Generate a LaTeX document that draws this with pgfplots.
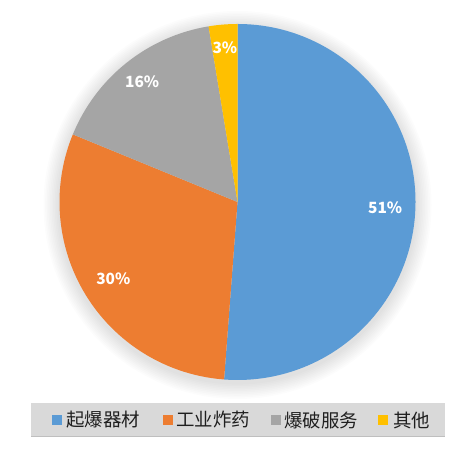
\documentclass[border=0pt]{standalone}
\usepackage{pgfplots}
\usepackage{pgfplotstable}
\pgfplotsset{compat=1.18}
\usepackage{fontspec}
\setmainfont{Noto Sans CJK SC}

\definecolor{sA}{HTML}{5B9BD5}
\definecolor{sB}{HTML}{ED7D31}
\definecolor{sC}{HTML}{A5A5A5}
\definecolor{sD}{HTML}{FFC000}
\definecolor{band}{HTML}{D9D9D9}

% share in percent, label radius (fraction of pie radius), colour
\pgfplotstableread{
name     value lr   col
起爆器材 51.2  0.83 sA
工业炸药 30.0  0.82 sB
爆破服务 16.2  0.86 sC
其他     2.6   0.87 sD
}\piedata

\begin{document}
\begin{tikzpicture}[x=1bp,y=1bp]
\useasboundingbox (0,0) rectangle (475,451);

% start at 12 o'clock, go clockwise
\def\cur{90}
\pgfplotsforeachungrouped \i in {0,1,2,3}{%
  \pgfplotstablegetelem{\i}{value}\of\piedata \let\v\pgfplotsretval
  \pgfmathsetmacro{\nxt}{\cur-3.6*\v}%
  \expandafter\xdef\csname a\i\endcsname{\cur}%
  \expandafter\xdef\csname b\i\endcsname{\nxt}%
  \pgfmathtruncatemacro{\pct}{round(\v)}%
  \expandafter\xdef\csname p\i\endcsname{\pct}%
  \pgfplotstablegetelem{\i}{lr}\of\piedata
  \expandafter\xdef\csname r\i\endcsname{\pgfplotsretval}%
  \pgfplotstablegetelem{\i}{col}\of\piedata
  \expandafter\xdef\csname c\i\endcsname{\pgfplotsretval}%
  \pgfplotstablegetelem{\i}{name}\of\piedata
  \expandafter\xdef\csname n\i\endcsname{\pgfplotsretval}%
  \global\let\cur\nxt
}

% soft shadow round the pie
\foreach \k in {1,...,10}
  \fill[black, opacity=0.012] (237.5,246) circle[radius=178+\k*1.6];

\begin{axis}[
    at={(237.5bp,249bp)}, anchor=center,
    scale only axis,
    width=356bp, height=356bp,
    xmin=-1, xmax=1, ymin=-1, ymax=1,
    hide axis,
    clip=false,
]
\pgfplotsinvokeforeach{0,1,2,3}{
  \fill[\csname c#1\endcsname]
    (axis cs:0,0) --
    (axis cs:{cos(\csname a#1\endcsname)},{sin(\csname a#1\endcsname)})
    arc[start angle=\csname a#1\endcsname, end angle=\csname b#1\endcsname, radius=178bp]
    -- cycle;
}
\pgfplotsinvokeforeach{0,1,2,3}{
  \node[text=white, font=\bfseries\fontsize{15.5}{16}\selectfont]
    at (axis cs:{\csname r#1\endcsname*cos((\csname a#1\endcsname+\csname b#1\endcsname)/2)},
                {\csname r#1\endcsname*sin((\csname a#1\endcsname+\csname b#1\endcsname)/2)})
    {\csname p#1\endcsname\%};
}
\end{axis}

% legend band
\fill[band] (31,14) rectangle (445,48);
\draw[black!25, line width=0.8] (31,15) -- (445,15);
\def\sqx{{56.5,168,275.5,383}}
\def\txx{{66,176,284,393}}
\foreach \i in {0,1,2,3}{
  \pgfmathsetmacro{\sx}{\sqx[\i]}
  \pgfmathsetmacro{\tx}{\txx[\i]}
  \fill[\csname c\i\endcsname] (\sx-5,26) rectangle (\sx+5,36);
  \node[anchor=west, inner sep=0pt, text=black!88,
        font=\fontsize{18.5}{20}\selectfont] at (\tx,31) {\csname n\i\endcsname};
}
\end{tikzpicture}
\end{document}
